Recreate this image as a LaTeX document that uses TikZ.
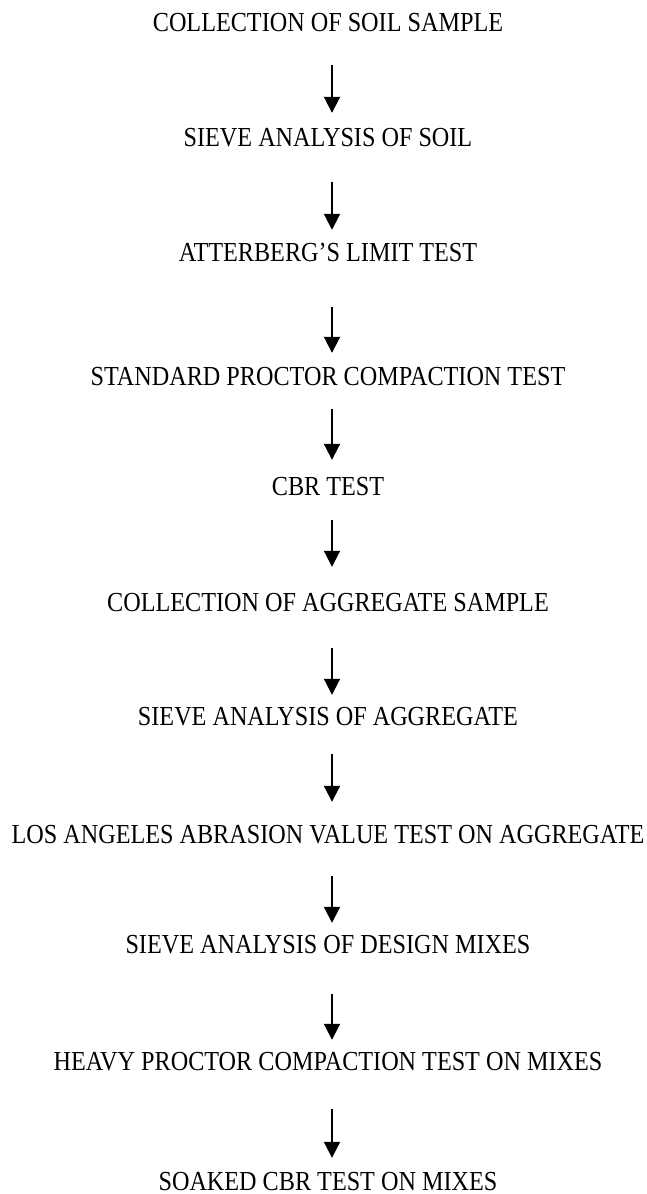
\documentclass[tikz,border=0pt]{standalone}
\usepackage{fontspec}
\setmainfont[FakeStretch=0.88]{Liberation Serif}
\usetikzlibrary{arrows.meta}
\begin{document}
\begin{tikzpicture}
[
	x=1pt,
	y=-1pt,
	txt/.style={inner sep=0pt,text height=18pt,text depth=0pt,font=\fontsize{27.5}{30}\selectfont},
	arr/.style={-{Triangle[width=16pt,length=16pt]},line width=2pt}
]

	\useasboundingbox (0,0) rectangle (646,1194);

	% steps
	\node[txt] (s1) at (328,22) {COLLECTION OF SOIL SAMPLE};
	\node[txt] (s2) at (328,137) {SIEVE ANALYSIS OF SOIL};
	\node[txt] (s3) at (328,252) {ATTERBERG’S LIMIT TEST};
	\node[txt] (s4) at (328,376) {STANDARD PROCTOR COMPACTION TEST};
	\node[txt] (s5) at (328,486) {CBR TEST};
	\node[txt] (s6) at (328,602) {COLLECTION OF AGGREGATE SAMPLE};
	\node[txt] (s7) at (328,716) {SIEVE ANALYSIS OF AGGREGATE};
	\node[txt] (s8) at (328,834) {LOS ANGELES ABRASION VALUE TEST ON AGGREGATE};
	\node[txt] (s9) at (328,944) {SIEVE ANALYSIS OF DESIGN MIXES};
	\node[txt] (s10) at (328,1061) {HEAVY PROCTOR COMPACTION TEST ON MIXES};
	\node[txt] (s11) at (328,1181) {SOAKED CBR TEST ON MIXES};

	% arrows
	\foreach \a/\b/\u/\v in {s1/s2/34/15, s2/s3/36/13, s3/s4/46/14, s4/s5/24/17, s5/s6/25/26,
		s6/s7/37/12, s7/s8/29/23, s8/s9/33/12, s9/s10/41/12, s10/s11/39/14}
		\draw[arr,shorten <=\u pt,shorten >=\v pt] ([xshift=4pt]\a.south) -- ([xshift=4pt]\b.north);

\end{tikzpicture}
\end{document}
